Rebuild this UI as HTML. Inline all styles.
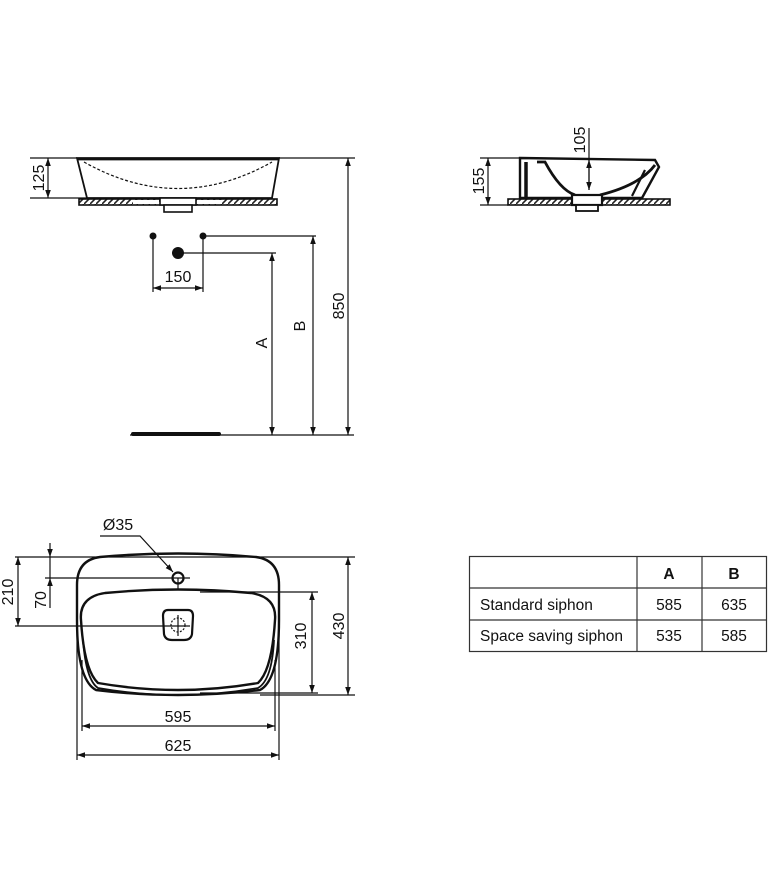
<!DOCTYPE html>
<html><head><meta charset="utf-8"><style>
html,body{margin:0;padding:0;background:#fff;}
svg{display:block;font-family:"Liberation Sans",sans-serif;}
</style></head><body>
<svg width="768" height="890" viewBox="0 0 768 890" xmlns="http://www.w3.org/2000/svg">
<defs>
<marker id="ar" viewBox="0 0 10 10" refX="10" refY="5" markerWidth="8" markerHeight="8" orient="auto-start-reverse" markerUnits="userSpaceOnUse"><path d="M0,1.5 L10,5 L0,8.5 Z" fill="#111"/></marker>
<pattern id="hat" width="6" height="6" patternUnits="userSpaceOnUse"><rect width="6" height="6" fill="#fff"/><path d="M0,6 L6,0" stroke="#222" stroke-width="1.6"/></pattern>
</defs>
<g stroke="#111" fill="none" stroke-width="1.2">
<!-- FRONT VIEW -->
<path d="M77,158 L279,158 L272,198 L87,198 Z" stroke-width="1.8"/>
<path d="M78,159 L278,159" stroke-width="2.8"/>
<path d="M84,162 Q178,215 272,162" stroke-dasharray="3,2"/>
<rect x="79" y="199" width="198" height="6" fill="url(#hat)" stroke-width="1.6"/>
<rect x="133" y="200" width="26" height="4" fill="#fff" stroke="none"/>
<rect x="197" y="200" width="25" height="4" fill="#fff" stroke="none"/>
<rect x="160" y="198" width="36" height="7" fill="#fff" stroke-width="1.6"/>
<rect x="164" y="205" width="28" height="7" fill="#fff" stroke-width="1.6"/>
<!-- 125 -->
<line x1="30" y1="158" x2="77" y2="158"/>
<line x1="30" y1="198" x2="87" y2="198"/>
<line x1="48" y1="158" x2="48" y2="198" marker-start="url(#ar)" marker-end="url(#ar)"/>
<line x1="279" y1="158" x2="355" y2="158"/>
<!-- dots -->
<line x1="153" y1="236" x2="153" y2="292"/>
<line x1="203" y1="236" x2="203" y2="292"/>
<line x1="153" y1="288" x2="203" y2="288" marker-start="url(#ar)" marker-end="url(#ar)"/>
<line x1="203" y1="236" x2="316" y2="236"/>
<line x1="178" y1="253" x2="276" y2="253"/>
<line x1="272" y1="253" x2="272" y2="435" marker-start="url(#ar)" marker-end="url(#ar)"/>
<line x1="313" y1="236" x2="313" y2="435" marker-start="url(#ar)" marker-end="url(#ar)"/>
<line x1="348" y1="158" x2="348" y2="435" marker-start="url(#ar)" marker-end="url(#ar)"/>
<line x1="130" y1="435" x2="354" y2="435"/>
<line x1="133" y1="434" x2="219" y2="434" stroke-width="4" stroke-linecap="round"/>
<!-- SIDE VIEW -->
<path d="M520,158 L655,160 L659,167 L642,198 L520,198 Z" stroke-width="2.4"/>
<path d="M526,162 L526,197" stroke-width="3.5"/>
<path d="M537,162 L545,162 Q560,190 575,195" stroke-width="2.8"/>
<path d="M600,195 Q640,185 655,165" stroke-width="2.8"/>
<path d="M645,170 L632,196" stroke-width="2.2"/>
<rect x="508" y="199" width="162" height="6" fill="url(#hat)" stroke-width="1.6"/>
<rect x="572" y="195" width="30" height="10" fill="#fff" stroke-width="2.2"/>
<rect x="576" y="205" width="22" height="6" fill="#fff" stroke-width="1.8"/>
<line x1="480" y1="158" x2="520" y2="158"/>
<line x1="480" y1="205" x2="508" y2="205"/>
<line x1="488" y1="158" x2="488" y2="205" marker-start="url(#ar)" marker-end="url(#ar)"/>
<line x1="589" y1="128" x2="589" y2="190"/>
<line x1="589" y1="160" x2="589" y2="190" marker-start="url(#ar)" marker-end="url(#ar)"/>
<!-- PLAN VIEW -->
<path d="M100,557 Q178,550 256,557 Q279,560 279,585 L279,620 Q279,680 260,690 Q178,700 96,690 Q77,680 77,620 L77,585 Q77,560 100,557 Z" stroke-width="2.4"/>
<path d="M105,593 Q178,586 251,593 Q277,597 275,620 Q272,670 258,683 Q178,697 98,683 Q84,670 81,620 Q79,597 105,593 Z" stroke-width="2.4"/>
<path d="M83,640 Q86,680 98,688 Q178,702 258,688 Q272,680 274,640" stroke-width="1.8"/>
<circle cx="178" cy="578" r="5.5" stroke-width="2.2"/>
<line x1="45" y1="578" x2="190" y2="578"/>
<line x1="178" y1="578" x2="178" y2="590"/>
<path d="M168,610 L188,610 Q193,610 193,616 L192,634 Q191,640 184,640 L172,640 Q165,640 164,634 L163,616 Q163,610 168,610 Z" stroke-width="2.2"/>
<circle cx="178" cy="625" r="7" stroke-dasharray="2,1.5"/>
<line x1="15" y1="626" x2="190" y2="626"/>
<line x1="178" y1="615" x2="178" y2="636"/>
<line x1="15" y1="557" x2="355" y2="557"/>
<line x1="18" y1="557" x2="18" y2="626" marker-start="url(#ar)" marker-end="url(#ar)"/>
<line x1="50" y1="543" x2="50" y2="557" marker-end="url(#ar)"/>
<line x1="50" y1="578" x2="50" y2="608" marker-start="url(#ar)"/>
<line x1="50" y1="557" x2="50" y2="578"/>
<line x1="200" y1="592" x2="318" y2="592"/>
<line x1="200" y1="693" x2="318" y2="693"/>
<line x1="260" y1="695" x2="355" y2="695"/>
<line x1="312" y1="592" x2="312" y2="693" marker-start="url(#ar)" marker-end="url(#ar)"/>
<line x1="348" y1="557" x2="348" y2="695" marker-start="url(#ar)" marker-end="url(#ar)"/>
<line x1="77" y1="600" x2="77" y2="760"/>
<line x1="279" y1="600" x2="279" y2="760"/>
<line x1="82" y1="660" x2="82" y2="731"/>
<line x1="275" y1="660" x2="275" y2="731"/>
<line x1="82" y1="726" x2="275" y2="726" marker-start="url(#ar)" marker-end="url(#ar)"/>
<line x1="77" y1="755" x2="279" y2="755" marker-start="url(#ar)" marker-end="url(#ar)"/>
<polyline points="100,536 140,536 173,572" marker-end="url(#ar)"/>
<!-- TABLE -->
<rect x="469.5" y="556.5" width="297" height="95" stroke="#333"/>
<line x1="469" y1="588" x2="767" y2="588" stroke="#333"/>
<line x1="469" y1="620" x2="767" y2="620" stroke="#333"/>
<line x1="637" y1="556" x2="637" y2="652" stroke="#333"/>
<line x1="702" y1="556" x2="702" y2="652" stroke="#333"/>
</g>
<g fill="#111" stroke="none">
<circle cx="153" cy="236" r="3.5"/>
<circle cx="203" cy="236" r="3.5"/>
<circle cx="178" cy="253" r="6"/>
</g>
<g fill="#111" font-size="16">
<text x="178" y="282" text-anchor="middle">150</text>
<text transform="translate(44,178) rotate(-90)" text-anchor="middle">125</text>
<text transform="translate(267,343) rotate(-90)" text-anchor="middle">A</text>
<text transform="translate(305,326) rotate(-90)" text-anchor="middle">B</text>
<text transform="translate(344,306) rotate(-90)" text-anchor="middle">850</text>
<text transform="translate(484,181) rotate(-90)" text-anchor="middle">155</text>
<text transform="translate(585,140) rotate(-90)" text-anchor="middle">105</text>
<text x="118" y="530" text-anchor="middle">Ø35</text>
<text transform="translate(13,592) rotate(-90)" text-anchor="middle">210</text>
<text transform="translate(46,600) rotate(-90)" text-anchor="middle">70</text>
<text transform="translate(306,636) rotate(-90)" text-anchor="middle">310</text>
<text transform="translate(344,626) rotate(-90)" text-anchor="middle">430</text>
<text x="178" y="722" text-anchor="middle">595</text>
<text x="178" y="751" text-anchor="middle">625</text>
<text x="669" y="579" text-anchor="middle" font-weight="bold" font-size="15.5">A</text>
<text x="734" y="579" text-anchor="middle" font-weight="bold" font-size="15.5">B</text>
<text x="480" y="610" font-size="15.5">Standard siphon</text>
<text x="669" y="610" text-anchor="middle" font-size="15.5">585</text>
<text x="734" y="610" text-anchor="middle" font-size="15.5">635</text>
<text x="480" y="641" font-size="15.5">Space saving siphon</text>
<text x="669" y="641" text-anchor="middle" font-size="15.5">535</text>
<text x="734" y="641" text-anchor="middle" font-size="15.5">585</text>
</g>
</svg>
</body></html>
